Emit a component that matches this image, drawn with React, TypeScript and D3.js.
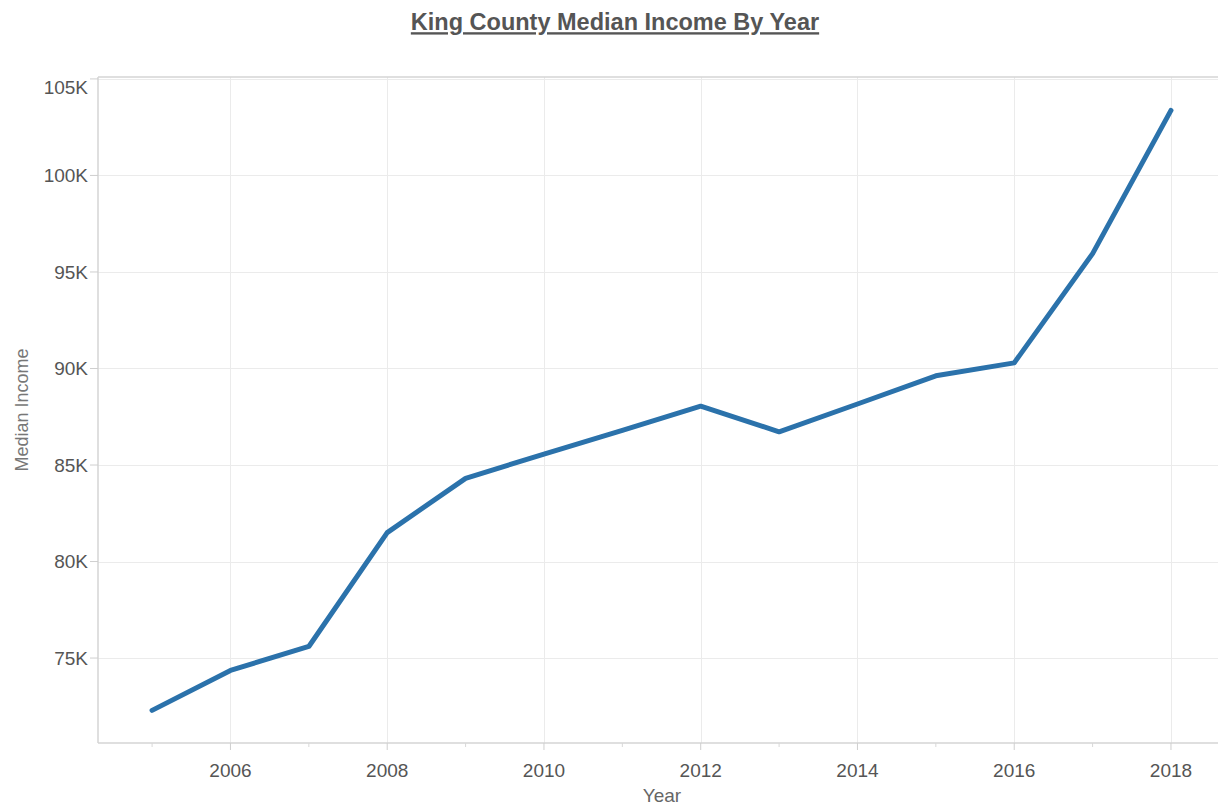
import { useEffect, useRef } from 'react';
import * as d3 from 'd3';

const years = [2005, 2006, 2007, 2008, 2009, 2010, 2011, 2012, 2013, 2014, 2015, 2016, 2017, 2018];
const medianIncome = [72290, 74360, 75600, 81500, 84310, 85570, 86800, 88050, 86720, 88160, 89620, 90290, 95950, 103370];
const yTicks = [75000, 80000, 85000, 90000, 95000, 100000, 105000];
const xMajorTicks = [2006, 2008, 2010, 2012, 2014, 2016, 2018];
const xMinorTicks = [2005, 2007, 2009, 2011, 2013, 2015, 2017];

const title = 'King County Median Income By Year';
const xTitle = 'Year';
const yTitle = 'Median Income';

export default function App() {
  const ref = useRef<SVGSVGElement>(null);

  useEffect(() => {
    const W = 1218;
    const H = 805;
    const margin = { top: 77, right: 0, bottom: 62, left: 98 };
    const font = '"Liberation Sans", Arial, Helvetica, sans-serif';

    const svg = d3.select(ref.current);
    svg.selectAll('*').remove();

    const x = d3.scaleLinear()
      .domain([2004.31, 2018.6])
      .range([margin.left, W - margin.right]);

    const y = d3.scaleLinear()
      .domain([70600, 105100])
      .range([H - margin.bottom, margin.top]);

    const grid = svg.append('g');

    // horizontal gridlines
    grid.selectAll('line.h')
      .data(yTicks)
      .join('line')
      .attr('x1', margin.left)
      .attr('x2', W - margin.right)
      .attr('y1', d => Math.round(y(d)) + 0.5)
      .attr('y2', d => Math.round(y(d)) + 0.5)
      .attr('stroke', '#ebebeb')
      .attr('stroke-width', 1);

    // vertical gridlines
    grid.selectAll('line.v')
      .data(xMajorTicks)
      .join('line')
      .attr('x1', d => Math.round(x(d)) + 0.5)
      .attr('x2', d => Math.round(x(d)) + 0.5)
      .attr('y1', margin.top)
      .attr('y2', H - margin.bottom)
      .attr('stroke', '#ebebeb')
      .attr('stroke-width', 1);

    // frame: top, left, bottom
    const frame = svg.append('g').attr('stroke', '#d4d4d4').attr('stroke-width', 1.5);
    frame.append('line')
      .attr('x1', margin.left).attr('x2', W)
      .attr('y1', margin.top).attr('y2', margin.top);
    frame.append('line')
      .attr('x1', margin.left).attr('x2', margin.left)
      .attr('y1', margin.top).attr('y2', H - margin.bottom);
    frame.append('line')
      .attr('x1', margin.left).attr('x2', W)
      .attr('y1', H - margin.bottom).attr('y2', H - margin.bottom);

    // y ticks + labels
    const yAxis = svg.append('g');
    yAxis.selectAll('line')
      .data(yTicks)
      .join('line')
      .attr('x1', margin.left - 8)
      .attr('x2', margin.left)
      .attr('y1', d => y(d))
      .attr('y2', d => y(d))
      .attr('stroke', '#cfcfcf');
    yAxis.selectAll('text')
      .data(yTicks)
      .join('text')
      .attr('x', margin.left - 10)
      .attr('y', d => Math.max(y(d), margin.top + 10))
      .attr('dy', '0.35em')
      .attr('text-anchor', 'end')
      .attr('font-family', font)
      .attr('font-size', 19)
      .attr('fill', '#555')
      .text(d => d3.format('d')(d / 1000) + 'K');

    // x ticks + labels
    const xAxis = svg.append('g');
    xAxis.selectAll('line.major')
      .data(xMajorTicks)
      .join('line')
      .attr('x1', d => x(d))
      .attr('x2', d => x(d))
      .attr('y1', H - margin.bottom)
      .attr('y2', H - margin.bottom + 7)
      .attr('stroke', '#cfcfcf');
    xAxis.selectAll('line.minor')
      .data(xMinorTicks)
      .join('line')
      .attr('class', 'minor')
      .attr('x1', d => x(d))
      .attr('x2', d => x(d))
      .attr('y1', H - margin.bottom)
      .attr('y2', H - margin.bottom + 4)
      .attr('stroke', '#d8d8d8');
    xAxis.selectAll('text')
      .data(xMajorTicks)
      .join('text')
      .attr('x', d => x(d))
      .attr('y', H - margin.bottom + 27)
      .attr('dy', '0.35em')
      .attr('text-anchor', 'middle')
      .attr('font-family', font)
      .attr('font-size', 19)
      .attr('fill', '#555')
      .text(d => String(d));

    // axis titles
    svg.append('text')
      .attr('x', (margin.left + W) / 2 + 4)
      .attr('y', 795)
      .attr('dy', '0.35em')
      .attr('text-anchor', 'middle')
      .attr('font-family', font)
      .attr('font-size', 19)
      .attr('fill', '#666')
      .text(xTitle);

    svg.append('text')
      .attr('transform', `translate(22,${(margin.top + H - margin.bottom) / 2}) rotate(-90)`)
      .attr('dy', '0.35em')
      .attr('text-anchor', 'middle')
      .attr('font-family', font)
      .attr('font-size', 18)
      .attr('fill', '#777')
      .text(yTitle);

    // title
    svg.append('text')
      .attr('x', 615)
      .attr('y', 22)
      .attr('dy', '0.35em')
      .attr('text-anchor', 'middle')
      .attr('font-family', font)
      .attr('font-size', 23.5)
      .attr('font-weight', 'bold')
      .attr('fill', '#555')
      .attr('text-decoration', 'underline')
      .text(title);

    // series line
    const points = years.map((yr, i) => [yr, medianIncome[i]] as [number, number]);
    svg.append('path')
      .datum(points)
      .attr('fill', 'none')
      .attr('stroke', '#2b72ab')
      .attr('stroke-width', 5)
      .attr('stroke-linejoin', 'round')
      .attr('stroke-linecap', 'round')
      .attr('d', d3.line<[number, number]>()
        .x(d => x(d[0]))
        .y(d => y(d[1]))
      );
  }, []);

  return (
    <div style={{ position: 'fixed', left: 0, top: 0, width: 1218, height: 805, background: '#fff' }}>
      <svg ref={ref} width={1218} height={805} style={{ display: 'block' }} />
    </div>
  );
}
